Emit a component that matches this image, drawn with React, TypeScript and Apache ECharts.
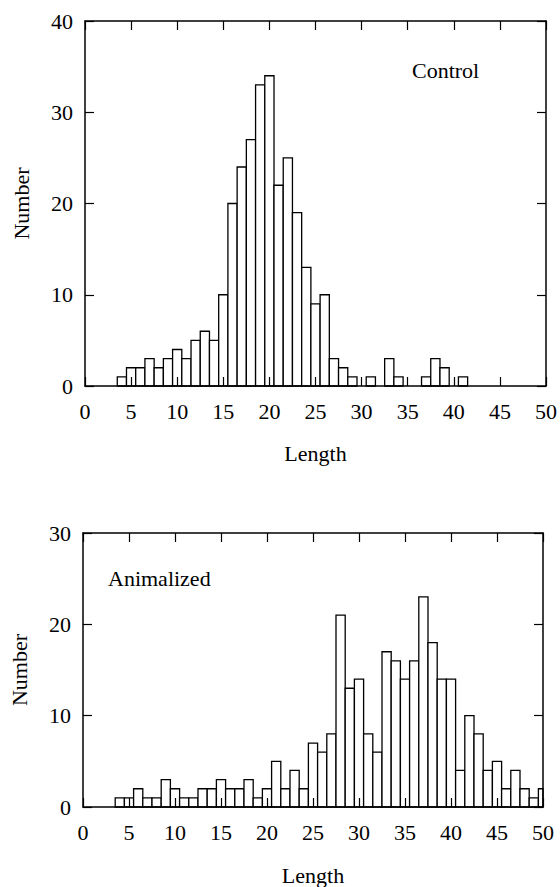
import React, { useEffect, useRef } from "react";
import * as echarts from "echarts";

const lengthBins = [
  0, 1, 2, 3, 4, 5, 6, 7, 8, 9, 10, 11, 12, 13, 14, 15, 16, 17, 18, 19, 20, 21, 22, 23, 24, 25,
  26, 27, 28, 29, 30, 31, 32, 33, 34, 35, 36, 37, 38, 39, 40, 41, 42, 43, 44, 45, 46, 47, 48, 49, 50,
];
const controlCounts = [
  0, 0, 0, 0, 1, 2, 2, 3, 2, 3, 4, 3, 5, 6, 5, 10, 20, 24, 27, 33, 34, 22, 25, 19, 13, 9,
  10, 3, 2, 1, 0, 1, 0, 3, 1, 0, 0, 1, 3, 2, 0, 1, 0, 0, 0, 0, 0, 0, 0, 0, 0,
];
const animalizedCounts = [
  0, 0, 0, 0, 1, 1, 2, 1, 1, 3, 2, 1, 1, 2, 2, 3, 2, 2, 3, 1, 2, 5, 2, 4, 2, 7,
  6, 8, 21, 13, 14, 8, 6, 17, 16, 14, 16, 23, 18, 14, 14, 4, 10, 8, 4, 5, 2, 4, 2, 1, 2,
];
const panelLabels = ["Control", "Animalized"];
const xName = "Length";
const yName = "Number";
const yMaxes = [40, 30];

const FONT = "Liberation Serif";
const FS = 22;

function renderBar(params: any, api: any) {
  const x = api.value(0);
  const y = api.value(1);
  if (!y) return null;
  const p0 = api.coord([x - 0.5, y]);
  const p1 = api.coord([x + 0.5, 0]);
  const cs = params.coordSys;
  const rect = echarts.graphic.clipRectByRect(
    { x: p0[0], y: p0[1], width: p1[0] - p0[0], height: p1[1] - p0[1] },
    { x: cs.x, y: cs.y, width: cs.width, height: cs.height }
  );
  if (!rect) return null;
  return {
    type: "rect",
    shape: rect,
    style: { fill: "#ffffff", stroke: "#000000", lineWidth: 1.3 },
  };
}

export default function App() {
  const ref = useRef<HTMLDivElement>(null);
  useEffect(() => {
    if (!ref.current) return;
    const chart = echarts.init(ref.current, null, { renderer: "svg" });
    const grids = [
      { left: 85, top: 21, width: 462, height: 365 },
      { left: 82, top: 533, width: 461, height: 275 },
    ];
    const axisLine = { show: true, onZero: false, lineStyle: { color: "#000", width: 1.5 } };
    const tick = { show: true, inside: true, length: 9, lineStyle: { color: "#000", width: 1.2 } };
    const label = { color: "#000", fontFamily: FONT, fontSize: FS };
    const xAxes: any[] = [];
    const yAxes: any[] = [];
    grids.forEach((_, gi) => {
      xAxes.push({
        type: "value",
        gridIndex: gi,
        min: 0,
        max: 50,
        interval: 5,
        position: "bottom",
        z: 5,
        axisLine,
        axisTick: tick,
        splitLine: { show: false },
        axisLabel: { ...label, margin: 14 },
        name: xName,
        nameLocation: "middle",
        nameGap: gi === 0 ? 56 : 57,
        nameMoveOverlap: false,
        nameTextStyle: { color: "#000", fontFamily: FONT, fontSize: FS },
      });
      xAxes.push({
        type: "value",
        gridIndex: gi,
        min: 0,
        max: 50,
        interval: 5,
        position: "top",
        z: 5,
        axisLine,
        axisTick: tick,
        splitLine: { show: false },
        axisLabel: { show: false },
      });
      yAxes.push({
        type: "value",
        gridIndex: gi,
        min: 0,
        max: yMaxes[gi],
        interval: 10,
        position: "left",
        z: 5,
        axisLine,
        axisTick: tick,
        splitLine: { show: false },
        axisLabel: { ...label, margin: 12 },
        name: yName,
        nameLocation: "middle",
        nameGap: 53,
        nameRotate: 90,
        nameMoveOverlap: false,
        nameTextStyle: { color: "#000", fontFamily: FONT, fontSize: FS },
      });
      yAxes.push({
        type: "value",
        gridIndex: gi,
        min: 0,
        max: yMaxes[gi],
        interval: 10,
        position: "right",
        z: 5,
        axisLine,
        axisTick: tick,
        splitLine: { show: false },
        axisLabel: { show: false },
      });
    });
    const series = [controlCounts, animalizedCounts].map((counts, gi) => ({
      type: "custom",
      name: panelLabels[gi],
      xAxisIndex: gi * 2,
      yAxisIndex: gi * 2,
      z: 1,
      renderItem: renderBar,
      data: lengthBins.map((b, i) => [b, counts[i]]),
    }));
    chart.setOption({
      animation: false,
      backgroundColor: "#ffffff",
      grid: grids.map((g) => ({ ...g, containLabel: false, show: false })),
      xAxis: xAxes,
      yAxis: yAxes,
      series,
      graphic: [
        {
          type: "text",
          left: 412,
          top: 59,
          style: { text: panelLabels[0], fontFamily: FONT, fontSize: FS, fill: "#000" },
        },
        {
          type: "text",
          left: 108,
          top: 567,
          style: { text: panelLabels[1], fontFamily: FONT, fontSize: FS, fill: "#000" },
        },
      ],
    });
    return () => chart.dispose();
  }, []);
  return (
    <div
      ref={ref}
      style={{ position: "fixed", left: 0, top: 0, width: 560, height: 887, background: "#fff" }}
    />
  );
}
